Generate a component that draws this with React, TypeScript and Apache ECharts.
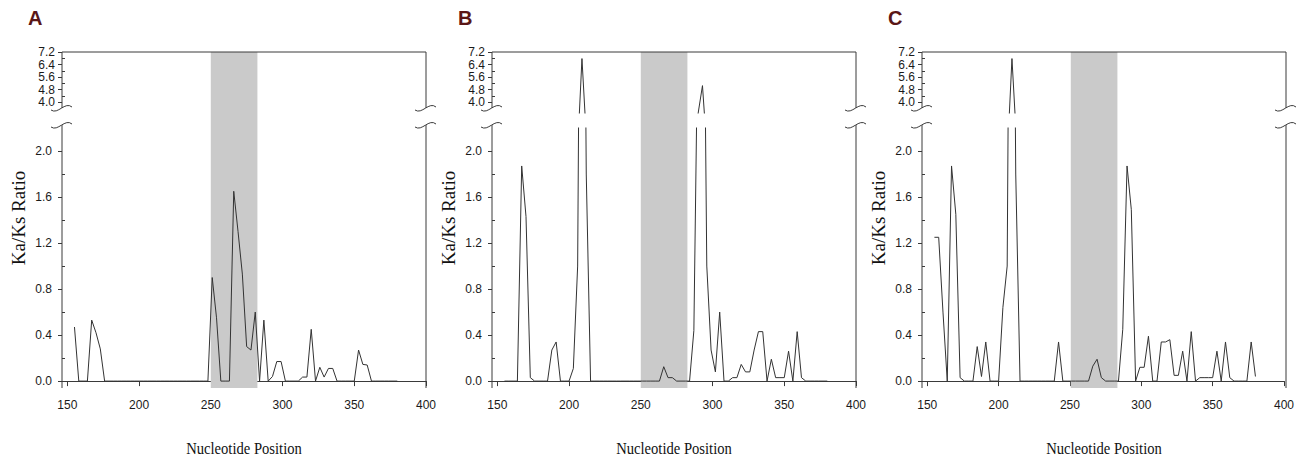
import React, { useEffect, useRef } from "react";
import * as echarts from "echarts";

// ---- data ----
const POSITIONS = [
  155, 158, 161, 164, 167, 170, 173, 176, 179, 182,
  185, 188, 191, 194, 197, 200, 203, 206, 209, 212,
  215, 218, 221, 224, 227, 230, 233, 236, 239, 242,
  245, 248, 251, 254, 257, 260, 263, 266, 269, 272,
  275, 278, 281, 284, 287, 290, 293, 296, 299, 302,
  305, 308, 311, 314, 317, 320, 323, 326, 329, 332,
  335, 338, 341, 344, 347, 350, 353, 356, 359, 362,
  365, 368, 371, 374, 377, 380,
];

const KAKS_A = [
  0.47, 0, 0, 0, 0.53, 0.42, 0.28, 0, 0, 0,
  0, 0, 0, 0, 0, 0, 0, 0, 0, 0,
  0, 0, 0, 0, 0, 0, 0, 0, 0, 0,
  0, 0, 0.9, 0.55, 0, 0, 0, 1.65, 1.3, 0.93,
  0.3, 0.27, 0.6, 0, 0.53, 0, 0.04, 0.17, 0.17, 0,
  0, 0, 0, 0.035, 0.035, 0.45, 0, 0.12, 0.035, 0.11,
  0.11, 0, 0, 0, 0, 0, 0.27, 0.145, 0.14, 0,
  0, 0, 0, 0, 0, 0,
];

const KAKS_B = [
  0, 0, 0, 0, 1.87, 1.43, 0.03, 0, 0, 0,
  0, 0.27, 0.34, 0, 0, 0, 0.11, 1.0, 6.78, 1.8,
  0, 0, 0, 0, 0, 0, 0, 0, 0, 0,
  0, 0, 0, 0, 0, 0, 0, 0.125, 0.03, 0.03,
  0, 0, 0, 0, 0.44, 3.3, 5.05, 1.0, 0.27, 0.08,
  0.6, 0, 0, 0.03, 0.03, 0.145, 0.08, 0.08, 0.27, 0.43,
  0.43, 0, 0.19, 0.03, 0.03, 0.03, 0.26, 0, 0.43, 0.03,
  0, 0, 0, 0, 0, 0,
];

const KAKS_C = [
  1.25, 1.25, 0.6, 0, 1.87, 1.45, 0.03, 0, 0, 0,
  0.3, 0.04, 0.34, 0, 0, 0, 0.64, 1.0, 6.78, 1.8,
  0, 0, 0, 0, 0, 0, 0, 0, 0, 0.34,
  0, 0, 0, 0, 0, 0, 0, 0.13, 0.19, 0.03,
  0, 0, 0, 0, 0.45, 1.87, 1.49, 0, 0.12, 0.12,
  0.39, 0, 0, 0.34, 0.34, 0.36, 0.05, 0.05, 0.26, 0,
  0.43, 0, 0.03, 0.03, 0.03, 0.03, 0.26, 0, 0.34, 0.03,
  0, 0, 0, 0, 0.34, 0.04,
];

const PANEL_LABELS = ["A", "B", "C"];
const X_TICKS = [150, 200, 250, 300, 350, 400];
const UPPER_TICKS = [4.0, 4.8, 5.6, 6.4, 7.2];
const UPPER_MINOR = [4.4, 5.2, 6.0, 6.8];
const LOWER_TICKS = [0, 0.4, 0.8, 1.2, 1.6, 2.0];
const LOWER_MINOR = [0.2, 0.6, 1.0, 1.4, 1.8];
const REGION = [250, 282.5];
const X_NAME = "Nucleotide Position";
const Y_NAME = "Ka/Ks Ratio";

// ---- layout ----
const PANEL_OFFSETS = [0, 430, 860];
const PLOT_LEFT = 62;
const PLOT_W = 364;
const TOP = 52;
const UPPER_H = 61;
const LOWER_TOP = 128;
const BOTTOM = 388;
const BREAK_Y1 = 108;
const BREAK_Y2 = 125;
const X_MIN = 146.3;
const X_MAX = 400;
const UP_MIN = 3.3;
const UP_MAX = 7.2;
const LOW_MIN = -0.06;
const LOW_MAX = 2.2;

const TICK_FONT = "'Liberation Sans Narrow', 'Arial Narrow', 'Liberation Sans', Arial, sans-serif";
const SERIF = "'Liberation Serif', 'Times New Roman', serif";
const AXIS_COLOR = "#3a3a3a";
const LINE_COLOR = "#333333";

function buildOption() {
  const grid: any[] = [];
  const xAxis: any[] = [];
  const yAxis: any[] = [];
  const series: any[] = [];
  const graphic: any[] = [];
  const panels = [KAKS_A, KAKS_B, KAKS_C];

  panels.forEach((vals, p) => {
    const ox = PANEL_OFFSETS[p];
    const g0 = grid.length;
    const y0 = yAxis.length;
    grid.push({ left: ox + PLOT_LEFT, top: TOP, width: PLOT_W, height: UPPER_H });
    grid.push({ left: ox + PLOT_LEFT, top: LOWER_TOP, width: PLOT_W, height: BOTTOM - LOWER_TOP });
    grid.push({ left: ox + PLOT_LEFT, top: TOP, width: PLOT_W, height: BOTTOM - TOP });

    xAxis.push({ type: "value", gridIndex: g0, min: X_MIN, max: X_MAX, show: false });
    xAxis.push({
      type: "value",
      gridIndex: g0 + 1,
      min: X_MIN,
      max: X_MAX,
      axisLine: { show: true, lineStyle: { color: AXIS_COLOR, width: 1 } },
      axisTick: { show: true, customValues: X_TICKS, length: 5, lineStyle: { color: AXIS_COLOR } },
      axisLabel: {
        customValues: X_TICKS,
        margin: 11,
        fontSize: 12,
        fontFamily: TICK_FONT,
        color: "#1a1a1a",
      },
      splitLine: { show: false },
    });
    xAxis.push({ type: "value", gridIndex: g0 + 2, min: X_MIN, max: X_MAX, show: false });

    // upper main
    yAxis.push({
      type: "value",
      gridIndex: g0,
      position: "left",
      min: UP_MIN,
      max: UP_MAX,
      axisLine: { show: false },
      axisTick: { show: true, customValues: UPPER_TICKS, length: 4, lineStyle: { color: AXIS_COLOR } },
      axisLabel: {
        customValues: UPPER_TICKS,
        formatter: (v: number) => v.toFixed(1),
        margin: 7,
        fontSize: 12,
        lineHeight: 12,
        fontFamily: TICK_FONT,
        color: "#1a1a1a",
      },
      splitLine: { show: false },
    });
    // upper minor
    yAxis.push({
      type: "value",
      gridIndex: g0,
      position: "left",
      min: UP_MIN,
      max: UP_MAX,
      axisLine: { show: false },
      axisTick: { show: true, inside: true, customValues: UPPER_MINOR, length: 3, lineStyle: { color: AXIS_COLOR } },
      axisLabel: { show: false },
      splitLine: { show: false },
    });
    // lower main
    yAxis.push({
      type: "value",
      gridIndex: g0 + 1,
      position: "left",
      min: LOW_MIN,
      max: LOW_MAX,
      axisLine: { show: false },
      axisTick: { show: true, customValues: LOWER_TICKS, length: 4, lineStyle: { color: AXIS_COLOR } },
      axisLabel: {
        customValues: LOWER_TICKS,
        formatter: (v: number) => v.toFixed(1),
        margin: 10,
        fontSize: 12,
        fontFamily: TICK_FONT,
        color: "#1a1a1a",
      },
      splitLine: { show: false },
    });
    // lower minor
    yAxis.push({
      type: "value",
      gridIndex: g0 + 1,
      position: "left",
      min: LOW_MIN,
      max: LOW_MAX,
      axisLine: { show: false },
      axisTick: { show: true, inside: true, customValues: LOWER_MINOR, length: 3, lineStyle: { color: AXIS_COLOR } },
      axisLabel: { show: false },
      splitLine: { show: false },
    });
    // full (shading)
    yAxis.push({ type: "value", gridIndex: g0 + 2, min: 0, max: 1, show: false });

    series.push({
      type: "line",
      xAxisIndex: g0 + 2,
      yAxisIndex: y0 + 4,
      data: [
        [X_MIN, 0],
        [X_MAX, 0],
      ],
      symbol: "none",
      lineStyle: { width: 0, opacity: 0 },
      silent: true,
      z: 1,
      markArea: {
        silent: true,
        itemStyle: { color: "#cacaca" },
        data: [[{ xAxis: REGION[0] }, { xAxis: REGION[1] }]],
      },
    });

    const pts = POSITIONS.map((x, i) => [x, vals[i]]);
    series.push({
      type: "line",
      xAxisIndex: g0,
      yAxisIndex: y0,
      data: pts,
      symbol: "none",
      showSymbol: false,
      clip: true,
      lineStyle: { color: LINE_COLOR, width: 1 },
      z: 3,
    });
    series.push({
      type: "line",
      xAxisIndex: g0 + 1,
      yAxisIndex: y0 + 2,
      data: pts,
      symbol: "none",
      showSymbol: false,
      clip: true,
      lineStyle: { color: LINE_COLOR, width: 1 },
      z: 3,
    });

    // frame
    const L = ox + PLOT_LEFT;
    const R = ox + PLOT_LEFT + PLOT_W;
    const frame = [
      [L, TOP, R, TOP],
      [L, TOP, L, BREAK_Y1],
      [L, BREAK_Y2, L, BOTTOM],
      [R, TOP, R, BREAK_Y1],
      [R, BREAK_Y2, R, BOTTOM],
    ];
    frame.forEach(([x1, y1, x2, y2]) => {
      graphic.push({
        type: "line",
        z: 100,
        silent: true,
        shape: { x1, y1, x2, y2 },
        style: { stroke: AXIS_COLOR, lineWidth: 1 },
      });
    });
    [L, R].forEach((cx) => {
      [BREAK_Y1, BREAK_Y2].forEach((cy) => {
        graphic.push({
          type: "bezierCurve",
          z: 100,
          silent: true,
          shape: {
            x1: cx - 11,
            y1: cy + 2,
            cpx1: cx - 4,
            cpy1: cy + 7,
            cpx2: cx + 3,
            cpy2: cy - 7,
            x2: cx + 10,
            y2: cy - 1,
          },
          style: { stroke: AXIS_COLOR, lineWidth: 1, fill: null },
        });
      });
    });

    graphic.push({
      type: "text",
      z: 100,
      x: ox + 28,
      y: 8,
      style: {
        text: PANEL_LABELS[p],
        fontSize: 20,
        fontWeight: "bold",
        fontFamily: "'Liberation Sans', Arial, sans-serif",
        fill: "#5a1616",
        align: "left",
        verticalAlign: "top",
      },
    });
    graphic.push({
      type: "text",
      z: 100,
      x: ox + 18,
      y: 218,
      rotation: Math.PI / 2,
      style: {
        text: Y_NAME,
        fontSize: 19,
        fontFamily: SERIF,
        fill: "#111",
        align: "center",
        verticalAlign: "middle",
      },
    });
    graphic.push({
      type: "text",
      z: 100,
      x: ox + 244,
      y: 448,
      scaleX: 0.86,
      style: {
        text: X_NAME,
        fontSize: 17,
        fontFamily: SERIF,
        fill: "#111",
        align: "center",
        verticalAlign: "middle",
      },
    });
  });

  return {
    animation: false,
    backgroundColor: "#ffffff",
    grid,
    xAxis,
    yAxis,
    series,
    graphic: { elements: graphic },
  };
}

export default function App() {
  const ref = useRef<HTMLDivElement>(null);
  useEffect(() => {
    if (!ref.current) return;
    const chart = echarts.init(ref.current, undefined, { renderer: "svg" });
    chart.setOption(buildOption() as any);
    return () => chart.dispose();
  }, []);
  return (
    <div
      ref={ref}
      style={{ position: "absolute", left: 0, top: 0, width: 1297, height: 458 }}
    />
  );
}
